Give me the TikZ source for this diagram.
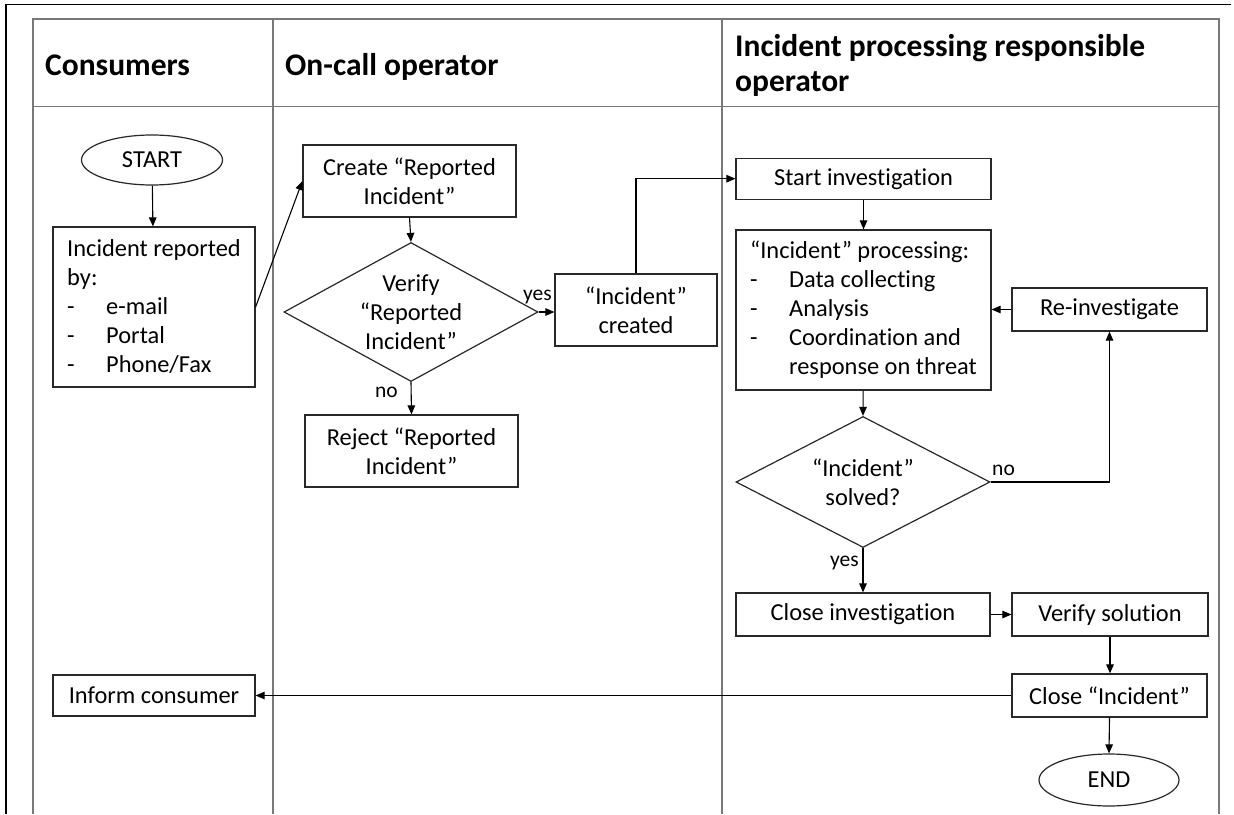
\documentclass[tikz,border=0pt]{standalone}
\usepackage{fontspec}
\setmainfont{Carlito}[Ligatures={NoCommon}]
\usetikzlibrary{arrows.meta,shapes.geometric}
\newcommand\bodyfnt{\fontsize{24.4}{29}\selectfont}
\newcommand\lblfnt{\fontsize{21.5}{25}\selectfont}
\newcommand\hdrfnt{\fontsize{31.5}{34.5}\selectfont\bfseries}
\newcommand\bul[1]{\makebox[39pt][l]{-}#1}
\definecolor{tblc}{RGB}{120,120,120}
\definecolor{boxc}{RGB}{40,40,40}
\begin{document}
\begin{tikzpicture}[x=1pt,y=-1pt,
  box/.style={draw=boxc, line width=1.2pt, inner sep=0pt, font=\bodyfnt, align=center},
  oval/.style={ellipse, draw=boxc, line width=1.2pt, inner sep=0pt, font=\bodyfnt},
  dia/.style={diamond, draw=boxc, line width=1.2pt, inner sep=0pt},
  txt/.style={inner sep=0pt, font=\bodyfnt, align=center},
  lbl/.style={inner sep=0pt, font=\lblfnt, anchor=base west},
  hdr/.style={inner sep=0pt, font=\hdrfnt, anchor=base west, align=left},
  arr/.style={draw=black, line width=1.1pt, -{Triangle[length=9pt,width=7.5pt]}},
  tbl/.style={draw=tblc, line width=1.6pt}]
\useasboundingbox (0,0) rectangle (1234,814);
\fill[white] (0,0) rectangle (1234,814);
% outer frame
\draw[black, line width=1.3pt] (5,4.5) -- (1231,4.5);
\draw[black, line width=2pt] (6,4) -- (6,814);
% swimlane table
\draw[tbl] (33,814) -- (33,19) -- (1219,19) -- (1219,814);
\draw[tbl] (33,106.5) -- (1219,106.5);
\draw[tbl] (273,19) -- (273,814);
\draw[tbl] (722,19) -- (722,814);
% headers
\node[hdr] (h1) at (45,75) {Consumers};
\node[hdr] (h2) at (285,75) {On-call operator};
\node[hdr] (h3) at (735,91) {Incident processing responsible\\operator};
% consumers lane
\node[oval, minimum width=141, minimum height=50] (start) at (152,160) {START};
\node[box, minimum width=202, minimum height=160, align=left] (inc) at (154,307)
  {Incident reported\\by:\\\bul{e-mail}\\\bul{Portal}\\\bul{Phone/Fax}};
\node[box, minimum width=202, minimum height=41] (inform) at (154,695.5) {Inform consumer};
% on-call lane
\node[box, minimum width=213, minimum height=72] (create) at (409.5,181) {Create “Reported\\Incident”};
\node[dia, minimum width=254, minimum height=139] (verify) at (411,312) {};
\node[txt] (verifyt) at (411,312) {Verify\\“Reported\\Incident”};
\node[box, minimum width=213, minimum height=72] (reject) at (411.5,451) {Reject “Reported\\Incident”};
\node[box, minimum width=162, minimum height=72] (created) at (636,310) {“Incident”\\created};
% processing lane
\node[box, minimum width=255, minimum height=41] (startinv) at (863.5,178.7) {Start investigation};
\node[box, minimum width=255, minimum height=160, align=left] (proc) at (863.5,310)
  {“Incident” processing:\\\bul{Data collecting}\\\bul{Analysis}\\\bul{Coordination and}\\\hspace*{39pt}response on threat};
\node[box, minimum width=195, minimum height=43] (reinv) at (1109.5,309.5) {Re-investigate};
\node[dia, minimum width=254, minimum height=131] (solved) at (863,482) {};
\node[txt] (solvedt) at (863,482) {“Incident”\\solved?};
\node[box, minimum width=254, minimum height=43] (closeinv) at (863,614.5) {Close investigation};
\node[box, minimum width=196, minimum height=43] (verif) at (1110,614.5) {Verify solution};
\node[box, minimum width=195, minimum height=43] (ci) at (1109.5,695.5) {Close “Incident”};
\node[oval, minimum width=140, minimum height=52] (endn) at (1109,780) {END};
% labels
\node[lbl] (yes1) at (523,300) {yes};
\node[lbl] (no1) at (375,397) {no};
\node[lbl] (no2) at (992,475) {no};
\node[lbl] (yes2) at (830,566) {yes};
% connectors
\draw[arr] (start) -- (inc);
\draw[arr] (inc.east) -- (create.west);
\draw[arr] (create.south) -- (verify.north);
\draw[arr] (verify.east) -- (verify.east -| created.west);
\draw[arr] (verify.south) -- (reject.north);
\draw[arr] (created.north) |- (startinv.west);
\draw[arr] (startinv) -- (proc);
\draw[arr] (reinv.west) -- (reinv.west -| proc.east);
\draw[arr] (proc) -- (solved.north);
\draw[arr] (solved.east) -| (reinv.south);
\draw[arr] (solved.south) -- (closeinv.north);
\draw[arr] (closeinv.east) -- (verif.west);
\draw[arr] (verif.south) -- (verif.south |- ci.north);
\draw[arr] (ci.west) -- (inform.east);
\draw[arr] (ci.south) -- (endn.north);
\end{tikzpicture}
\end{document}
